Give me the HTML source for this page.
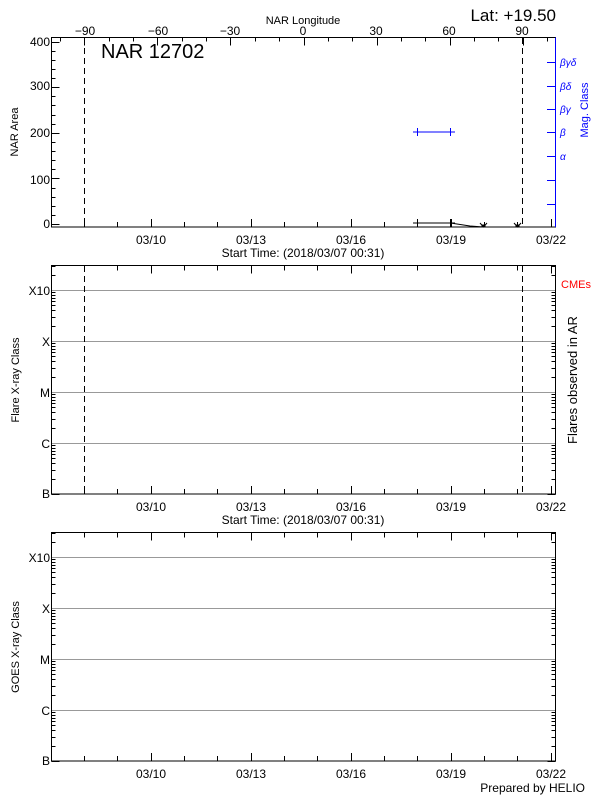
<!DOCTYPE html>
<html><head><meta charset="utf-8"><style>
html,body{margin:0;padding:0;background:#fff;}
svg{display:block;font-family:"Liberation Sans",sans-serif;}
</style></head><body>
<svg id="s" width="600" height="800" viewBox="0 0 600 800" xmlns="http://www.w3.org/2000/svg">
<rect width="600" height="800" fill="#fff"/>
<g id="ticks" stroke="#000" stroke-width="1" fill="none"></g>
<!-- Panel 1 -->
<rect x="51.5" y="37.5" width="504" height="189.5" fill="none" stroke="#000"/>
<line x1="555.5" y1="37.5" x2="555.5" y2="227" stroke="#00f"/>
<line x1="84.5" y1="38" x2="84.5" y2="227" stroke="#000" stroke-dasharray="6,4"/>
<line x1="522.5" y1="38" x2="522.5" y2="227" stroke="#000" stroke-dasharray="6,4"/>
<text x="101" y="58" font-size="20">NAR 12702</text>
<text x="556" y="21" font-size="17" text-anchor="end">Lat: +19.50</text>
<text x="303" y="24" font-size="11" text-anchor="middle">NAR Longitude</text>
<g font-size="12" text-anchor="middle">
<text x="85" y="35">−90</text><text x="158" y="35">−60</text><text x="230" y="35">−30</text><text x="303" y="35">0</text><text x="376" y="35">30</text><text x="449" y="35">60</text><text x="522" y="35">90</text>
</g>
<g font-size="12" text-anchor="end">
<text x="50" y="46">400</text><text x="50" y="90">300</text><text x="50" y="137">200</text><text x="50" y="184">100</text><text x="50" y="228">0</text>
</g>
<text transform="translate(18,132) rotate(-90)" font-size="11" text-anchor="middle">NAR Area</text>
<g fill="#00f" font-size="10" font-style="italic">
<text x="560" y="66">βγδ</text><text x="560" y="90">βδ</text><text x="560" y="113">βγ</text><text x="560" y="136">β</text><text x="560" y="160">α</text>
</g>
<text transform="translate(588,110) rotate(-90)" font-size="11" fill="#00f" text-anchor="middle">Mag. Class</text>
<g stroke="#00f">
<line x1="417.5" y1="132" x2="450.5" y2="132"/><line x1="417.5" y1="128" x2="417.5" y2="136"/><line x1="450.5" y1="128" x2="450.5" y2="136"/>
<line x1="413" y1="132" x2="422" y2="132"/><line x1="446" y1="132" x2="455" y2="132"/>
</g>
<g stroke="#000" fill="none">
<polyline points="417.5,223 450.5,223 470,226 483.5,227"/>
<line x1="413" y1="223" x2="422" y2="223"/><line x1="417.5" y1="219" x2="417.5" y2="227"/>
<line x1="446" y1="223" x2="455" y2="223"/><line x1="450.5" y1="219" x2="450.5" y2="227"/>
<polyline points="480,223 483.5,227 487,223"/><polyline points="514,223 517.5,227 521,223"/>
<rect x="482" y="225" width="3" height="2" fill="#000"/><rect x="516" y="225" width="3" height="2" fill="#000"/>
</g>
<g font-size="12" text-anchor="middle">
<text x="151" y="244">03/10</text><text x="251" y="244">03/13</text><text x="351" y="244">03/16</text><text x="451" y="244">03/19</text><text x="551" y="244">03/22</text>
<text x="303" y="257">Start Time: (2018/03/07 00:31)</text>
</g>
<!-- Panel 2 -->
<rect x="51.5" y="265.5" width="504" height="228.5" fill="none" stroke="#000"/>
<g stroke="#999"><line x1="52" y1="290.5" x2="555" y2="290.5"/><line x1="52" y1="341.5" x2="555" y2="341.5"/><line x1="52" y1="392.5" x2="555" y2="392.5"/><line x1="52" y1="443.5" x2="555" y2="443.5"/></g>
<line x1="84.5" y1="266" x2="84.5" y2="494" stroke="#000" stroke-dasharray="6,4"/>
<line x1="522.5" y1="266" x2="522.5" y2="494" stroke="#000" stroke-dasharray="6,4"/>
<g font-size="12" text-anchor="end">
<text x="50" y="295">X10</text><text x="50" y="346">X</text><text x="50" y="397">M</text><text x="50" y="448">C</text><text x="50" y="498">B</text>
</g>
<text transform="translate(19,380) rotate(-90)" font-size="11" text-anchor="middle">Flare X-ray Class</text>
<text x="561" y="288" font-size="11" fill="#f00">CMEs</text>
<text transform="translate(577,380) rotate(-90)" font-size="13" text-anchor="middle">Flares observed in AR</text>
<g font-size="12" text-anchor="middle">
<text x="151" y="511">03/10</text><text x="251" y="511">03/13</text><text x="351" y="511">03/16</text><text x="451" y="511">03/19</text><text x="551" y="511">03/22</text>
<text x="303" y="524">Start Time: (2018/03/07 00:31)</text>
</g>
<!-- Panel 3 -->
<rect x="51.5" y="532.5" width="504" height="228.5" fill="none" stroke="#000"/>
<g stroke="#999"><line x1="52" y1="557.5" x2="555" y2="557.5"/><line x1="52" y1="608.5" x2="555" y2="608.5"/><line x1="52" y1="659.5" x2="555" y2="659.5"/><line x1="52" y1="710.5" x2="555" y2="710.5"/></g>
<g font-size="12" text-anchor="end">
<text x="50" y="562">X10</text><text x="50" y="613">X</text><text x="50" y="664">M</text><text x="50" y="715">C</text><text x="50" y="765">B</text>
</g>
<text transform="translate(19,647) rotate(-90)" font-size="11" text-anchor="middle">GOES X-ray Class</text>
<g font-size="12" text-anchor="middle">
<text x="151" y="778">03/10</text><text x="251" y="778">03/13</text><text x="351" y="778">03/16</text><text x="451" y="778">03/19</text><text x="551" y="778">03/22</text>
</g>
<text x="585" y="792" font-size="12" text-anchor="end">Prepared by HELIO</text>
</svg>
<script>
(function(){
var g=document.getElementById('ticks'),ns='http://www.w3.org/2000/svg';
function L(x1,y1,x2,y2,c){var l=document.createElementNS(ns,'line');l.setAttribute('x1',x1);l.setAttribute('y1',y1);l.setAttribute('x2',x2);l.setAttribute('y2',y2);if(c)l.setAttribute('stroke',c);g.appendChild(l);}
var d=33.33,xm=150.7;
function xt(top,bot,topTicks){
 for(var k=-3;k<=12;k++){var x=Math.round(xm+k*d)+0.5; if(x<52||x>555)continue; var maj=(k%3===0);var len=maj?8:5;
  L(x,bot,x,bot-len); if(topTicks)L(x,top,x,top+len);}
}
xt(37.5,227,false);xt(265.5,494,true);xt(532.5,761,true);
for(var lo=-100;lo<=100;lo+=10){var x=Math.round(303.5+lo*2.435)+0.5; if(x<52||x>555)continue; L(x,37.5,x,37.5+(lo%30===0?8:4));}
for(var v=0;v<=400;v+=20){var y=Math.round(224-v*0.456)+0.5; L(51.5,y,51.5+(v%100===0?8:4),y);}
[62,86,109,132,156,180,204].forEach(function(y){L(555.5,y+0.5,547,y+0.5,'#00f');});
function lt(top,bot){var dec=51;
 for(var i=0;i<5;i++){var base=bot-i*dec;
  for(var m=1;m<=9;m++){var y=Math.round(base-Math.log10(m)*dec)+0.5; if(y<top)continue; var len=(m===1)?8:4;
   L(51.5,y,51.5+len,y); L(555.5,y,555.5-len,y);}
 }}
lt(265.5,494);lt(532.5,761);
})();
</script>
</body></html>
